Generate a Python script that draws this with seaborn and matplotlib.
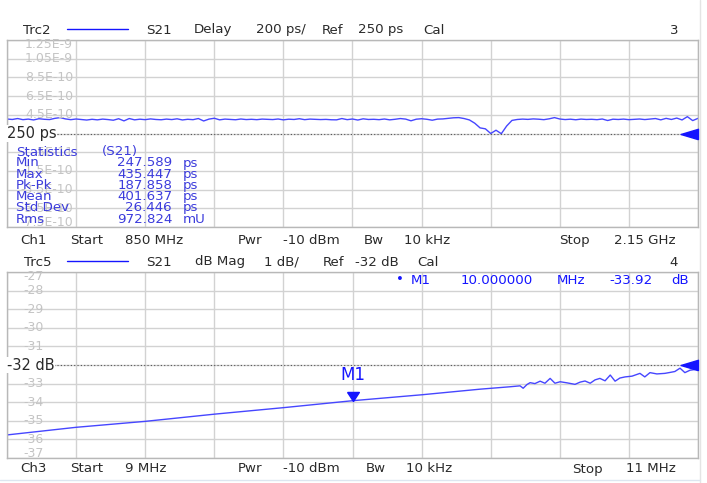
##VNA screen: group delay (Trc2) and S21 magnitude (Trc5)
import numpy as np
import pandas as pd
import matplotlib.pyplot as plt
import seaborn as sns
from matplotlib.path import Path
from matplotlib.lines import Line2D

#Trc2 - S21 delay in ps, Ch1 sweep 850 MHz .. 2.15 GHz, 10 MHz steps
delay_ps = [405, 400, 410, 398, 404, 395, 408, 402, 399, 412,
            420, 406, 398, 405, 400, 394, 402, 396, 404, 399,
            392, 408, 385, 410, 396, 403, 398, 406, 400, 397,
            404, 399, 407, 395, 402, 398, 410, 384, 404, 413,
            396, 404, 400, 397, 405, 399, 402, 398, 404, 401,
            399, 405, 396, 403, 400, 408, 398, 404, 402, 399,
            401, 397, 396, 410, 398, 405, 394, 407, 400, 402,
            398, 405, 396, 402, 410, 404, 386, 403, 408, 402,
            392, 404, 406, 412, 418, 420, 410, 395, 360, 310,
            300, 250, 285, 248, 330, 390, 400, 404, 401, 406,
            403, 398, 407, 420, 405, 399, 403, 397, 404, 400,
            402, 398, 405, 389, 403, 400, 404, 398, 402, 405,
            399, 404, 410, 396, 412, 400, 415, 395, 430, 388, 412]
delay_freq = np.arange(850, 2151, 10)

#Trc5 - S21 dB Mag, Ch3 sweep 9 .. 11 MHz
mag_freq = [9.000, 9.200, 9.400, 9.602, 9.802, 10.000, 10.201, 10.369, 10.456, 10.485,
            10.494, 10.505, 10.514, 10.528, 10.543, 10.557, 10.572, 10.586, 10.601, 10.621,
            10.644, 10.659, 10.673, 10.688, 10.702, 10.716, 10.731, 10.746, 10.760, 10.774,
            10.789, 10.809, 10.832, 10.846, 10.861, 10.881, 10.904, 10.919, 10.933, 10.948,
            10.962, 10.977, 11.000]
mag_db = [-35.76, -35.35, -35.03, -34.64, -34.29, -33.92, -33.60, -33.30, -33.17, -33.12,
          -33.25, -33.05, -32.95, -33.00, -32.87, -32.98, -32.72, -32.98, -32.90, -32.96,
          -33.04, -32.92, -32.86, -32.98, -32.80, -32.72, -32.85, -32.54, -32.87, -32.70,
          -32.64, -32.60, -32.45, -32.64, -32.41, -32.48, -32.45, -32.40, -32.35, -32.17,
          -32.41, -32.28, -32.22]

delay_ticks = ["1.25E-9", "1.05E-9", "8.5E-10", "6.5E-10", "4.5E-10", "",
               "5E-11", "-1.5E-10", "-3.5E-10", "-5.5E-10", "-7.5E-10"]
mag_ticks = ["-27", "-28", "-29", "-30", "-31", "", "-33", "-34", "-35", "-36", "-37"]

stats_names = ["Min", "Max", "Pk-Pk", "Mean", "Std Dev", "Rms"]
stats_values = ["247.589", "435.447", "187.858", "401.637", "26.446", "972.824"]
stats_units = ["ps", "ps", "ps", "ps", "ps", "mU"]

delay_df = pd.DataFrame({"freq": delay_freq, "delay": delay_ps})
mag_df = pd.DataFrame({"freq": mag_freq, "mag": mag_db})

sns.set_style("white")
plt.rcParams['font.family'] = ['DejaVu Sans']

W, H = 707, 483
fig = plt.figure(figsize=(W / 100, H / 100), dpi=100)

def px(x, y):
    return x / W, 1 - y / H

TRACE = '#4646ff'
MARK = '#1515ff'
TXT = '#2a2a2a'
GRID = '#d2d2d2'
LBL = '#c4c4c4'
STAT = '#3c3cdc'
FS = 9
HFS = 9.6

def words(y, items, color=TXT, fs=HFS):
    #each word group centred on the span it covers on the screen
    for t, x0, x1 in items:
        fig.text(*px((x0 + x1) / 2, y), t, fontsize=fs, color=color, va='center', ha='center')

def setup(ax, lo, hi, xlo, xhi, ref, labels, lbl_x):
    ax.set_xlim(xlo, xhi)
    ax.set_ylim(lo, hi)
    ax.set_xticks(np.linspace(xlo, xhi, 11))
    ax.set_yticks(np.linspace(lo, hi, 11))
    ax.set_xticklabels([])
    ax.set_yticklabels([])
    ax.grid(True, color=GRID, lw=1)
    ax.tick_params(axis='x', length=0)
    ax.tick_params(axis='y', direction='in', length=8, color=LBL, width=0.8)
    for s in ax.spines.values():
        s.set_color('#b8b8b8')
        s.set_linewidth(1)
    ax.set_xlabel('')
    ax.set_ylabel('')
    ticks = np.linspace(hi, lo, 11)
    for i, (t, lab) in enumerate(zip(ticks, labels)):
        off = 0
        if i == 0:
            off = -3
        if i == 10:
            off = 3
        ax.annotate(lab, xy=(lbl_x, t), xycoords=('figure fraction', 'data'),
                    xytext=(0, off), textcoords='offset points',
                    ha='right', va='center', fontsize=FS, color=LBL)
    #reference line and ref arrow
    ax.axhline(ref, color='#555555', lw=0.8, ls=(0, (1, 2)))
    ref_marker = Path([(0, -0.3), (0, 0.3), (-1, 0), (0, -0.3)])
    ax.plot([xhi], [ref], marker=ref_marker, markersize=25, color=MARK,
            clip_on=False, zorder=6)

#Top panel: delay
ax1 = fig.add_axes([7 / W, 1 - 227 / H, 691 / W, 187 / H])
sns.lineplot(data=delay_df, x="freq", y="delay", ax=ax1, color=TRACE, lw=1)
setup(ax1, -750, 1250, 850, 2150, 250, delay_ticks, 73 / W)
ax1.text(0.0, 250, "250 ps", transform=ax1.get_yaxis_transform(), ha='left', va='center',
         fontsize=10.5, color=TXT, zorder=7,
         bbox=dict(facecolor='white', edgecolor='none', pad=0.5))

#Statistics block
fig.text(*px(16, 152), "Statistics", fontsize=FS + 0.6, color=STAT, va='center')
fig.text(*px(102, 152), "(S21)", fontsize=FS + 0.6, color=STAT, va='center')
for k, (n, v, u) in enumerate(zip(stats_names, stats_values, stats_units)):
    yy = 163 + k * 11.2
    fig.text(*px(16, yy), n, fontsize=FS + 0.6, color=STAT, va='center')
    fig.text(*px(172, yy), v, fontsize=FS + 0.6, color=STAT, va='center', ha='right')
    fig.text(*px(183, yy), u, fontsize=FS + 0.6, color=STAT, va='center')

#Bottom panel: dB Mag
ax2 = fig.add_axes([7 / W, 1 - 458 / H, 691 / W, 186 / H])
sns.lineplot(data=mag_df, x="freq", y="mag", ax=ax2, color=TRACE, lw=1)
setup(ax2, -37, -27, 9, 11, -32, mag_ticks, 44 / W)
ax2.text(0.0, -32, "-32 dB", transform=ax2.get_yaxis_transform(), ha='left', va='center',
         fontsize=10.5, color=TXT, zorder=7,
         bbox=dict(facecolor='white', edgecolor='none', pad=0.5))

#Marker M1
m1_f = 10.0
m1_v = mag_db[mag_freq.index(m1_f)]
m_path = Path([(-0.65, 1), (0.65, 1), (0, 0), (-0.65, 1)])
ax2.plot([m1_f], [m1_v], marker=m_path, markersize=13, color=MARK, zorder=6)
ax2.annotate("M1", xy=(m1_f, m1_v), xytext=(0, 12), textcoords='offset points',
             ha='center', va='bottom', fontsize=12, color=MARK)
words(280, [("\u2022", 397, 403), ("M1", 409, 433), ("10.000000", 452, 542),
            ("MHz", 552, 590), ("-33.92", 605, 658), ("dB", 672, 688)],
      color=MARK, fs=FS + 0.6)

#Header and footer lines of each channel
fig.add_artist(Line2D([67 / W, 128 / W], [1 - 29 / H] * 2, color=MARK, lw=1))
fig.add_artist(Line2D([67 / W, 128 / W], [1 - 261 / H] * 2, color=MARK, lw=1))
words(30, [("Trc2", 24, 50), ("S21", 145, 173), ("Delay", 188, 237), ("200 ps/", 250, 312),
           ("Ref", 319, 347), ("250 ps", 353, 408), ("Cal", 421, 447), ("3", 670, 678)])
words(240, [("Ch1", 24, 43), ("Start", 67, 106), ("850 MHz", 115, 193), ("Pwr", 238, 263),
            ("-10 dBm", 272, 350), ("Bw", 362, 386), ("10 kHz", 398, 456),
            ("Stop", 557, 592), ("2.15 GHz", 605, 684)])
words(262, [("Trc5", 24, 52), ("S21", 145, 173), ("dB Mag", 188, 252), ("1 dB/", 260, 302),
            ("Ref", 320, 347), ("-32 dB", 350, 403), ("Cal", 415, 441), ("4", 670, 678)])
words(469, [("Ch3", 24, 43), ("Start", 67, 106), ("9 MHz", 118, 173), ("Pwr", 238, 263),
            ("-10 dBm", 272, 350), ("Bw", 363, 388), ("10 kHz", 400, 458),
            ("Stop", 568, 607), ("11 MHz", 617, 684)])

#light frame lines of the screen
fig.add_artist(Line2D([700 / W] * 2, [0, 1], color='#e4e4e4', lw=1))
fig.add_artist(Line2D([0, 700 / W], [1 - 480 / H] * 2, color='#dde6f0', lw=1))

fig.savefig('out.png', dpi=100)
